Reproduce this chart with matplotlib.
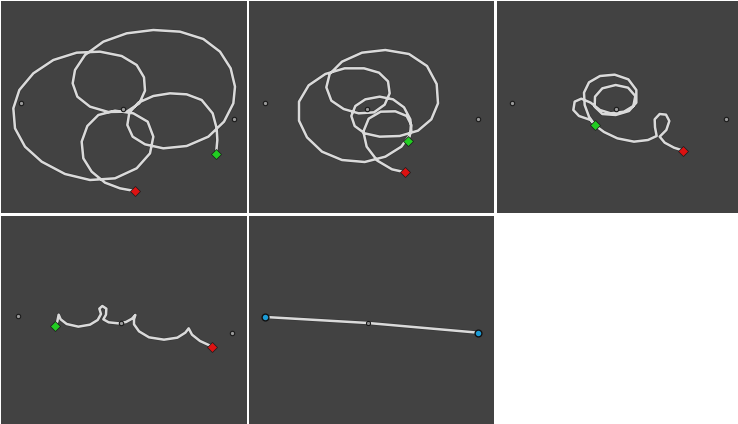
import matplotlib
matplotlib.use("Agg")
import matplotlib.pyplot as plt

W, H = 738, 424
BG = "#424242"
LINE = "#dadada"

# traced trajectories (view units, y grows downward), first point = start (green), last = end (red)
path1_x = [648, 652, 650, 638, 605, 560, 510, 460, 415, 388, 382, 398, 435, 490, 560, 625, 672, 700, 705, 692,
           660, 610, 540, 460, 380, 310, 255, 225, 218, 232, 270, 325, 380, 418, 435, 432, 410, 365, 300, 230,
           160, 100, 58, 40, 45, 75, 125, 195, 270, 345, 410, 450, 460, 443, 400, 345, 295, 262, 245, 250,
           275, 315, 360, 404]
path1_y = [463, 420, 385, 340, 300, 283, 280, 288, 308, 338, 375, 410, 433, 445, 438, 410, 365, 310, 260, 205,
           155, 117, 95, 90, 100, 125, 165, 210, 250, 290, 320, 336, 335, 310, 272, 232, 195, 168, 155, 158,
           180, 220, 270, 325, 385, 440, 485, 522, 540, 535, 505, 460, 410, 365, 340, 332, 345, 378, 425, 475,
           515, 548, 565, 573]

path2_x = [480, 490, 487, 468, 435, 395, 352, 322, 310, 320, 350, 395, 455, 510, 550, 570, 566, 537, 483, 412,
           342, 282, 245, 235, 250, 287, 332, 378, 410, 425, 420, 393, 348, 290, 232, 182, 153, 153, 177, 222,
           282, 350, 412, 460, 485, 490, 476, 442, 398, 362, 346, 356, 388, 432, 472]
path2_y = [422, 392, 358, 322, 298, 290, 298, 318, 348, 378, 400, 410, 408, 392, 358, 310, 252, 198, 162, 150,
           158, 185, 222, 262, 302, 327, 340, 337, 314, 280, 244, 218, 205, 205, 222, 256, 305, 362, 412, 455,
           480, 486, 470, 440, 405, 375, 348, 334, 335, 356, 395, 440, 482, 508, 517]

path3_x = [303, 285, 272, 270, 285, 318, 362, 403, 427, 427, 405, 365, 325, 302, 303, 325, 365, 402, 424, 418,
           390, 350, 318, 290, 262, 242, 238, 255, 290, 303, 330, 370, 420, 462, 488, 483, 482, 497, 516, 526,
           517, 497, 512, 540, 568]
path3_y = [376, 350, 315, 278, 247, 228, 224, 238, 270, 308, 333, 345, 342, 320, 290, 265, 255, 263, 288, 318,
           335, 340, 330, 308, 296, 305, 330, 348, 360, 376, 396, 415, 425, 420, 408, 382, 358, 342, 344, 363,
           390, 410, 428, 443, 452]

path4_x = [165, 172, 176, 182, 200, 235, 270, 293, 303, 298, 307, 319, 318, 310, 326, 355, 378, 396, 406, 402,
           402, 417, 447, 492, 532, 556, 566, 576, 600, 637]
path4_y = [342, 328, 308, 322, 336, 344, 338, 324, 306, 290, 282, 290, 308, 322, 331, 334, 330, 320, 309, 322,
           337, 358, 376, 383, 377, 362, 349, 368, 387, 404]

path5_x = [52, 360, 690]
path5_y = [315, 333, 362]

# the three attractor dots in each panel
dots_x = [[62, 370, 703], [52, 357, 690], [55, 365, 695], [55, 362, 695], [52, 360, 690]]
dots_y = [[310, 327, 357], [310, 327, 357], [310, 328, 358], [313, 333, 362], [315, 333, 362]]

paths = [(path1_x, path1_y), (path2_x, path2_y), (path3_x, path3_y), (path4_x, path4_y), (path5_x, path5_y)]

# panel rectangles in pixels (x0, x1, y0, y1) and origin of the view units
panels = [(1, 247, 1, 213, 0, 0), (249.5, 494, 1, 213, 248, 0), (497, 738, 1, 213, 494, 0),
          (1, 247, 216, 424, 0, 212), (249.5, 494, 216, 424, 248, 212)]

fig = plt.figure(figsize=(W / 100, H / 100), dpi=100, facecolor="white")

for i, (x0, x1, y0, y1, ox, oy) in enumerate(panels):
    ax = fig.add_axes([x0 / W, 1 - y1 / H, (x1 - x0) / W, (y1 - y0) / H])
    ax.set_facecolor(BG)
    ax.set_xlim((x0 - ox) * 3, (x1 - ox) * 3)
    ax.set_ylim((y1 - oy) * 3, (y0 - oy) * 3)
    ax.set_xticks([])
    ax.set_yticks([])
    for s in ax.spines.values():
        s.set_visible(False)

    px, py = paths[i]
    ax.plot(px, py, color="#2a2a2a", lw=2.8, solid_capstyle="round", solid_joinstyle="round", alpha=0.45)
    ax.plot(px, py, color=LINE, lw=1.8, solid_capstyle="round", solid_joinstyle="round")

    dx, dy = dots_x[i], dots_y[i]
    if i == 4:
        ax.scatter([dx[0], dx[2]], [dy[0], dy[2]], s=24, c="#1b9bd6", edgecolors="#111111", linewidths=1.0, zorder=5)
        ax.scatter([dx[1]], [dy[1]], s=9, c="#8c8c8c", edgecolors="#111111", linewidths=0.7, zorder=5)
    else:
        ax.scatter(dx, dy, s=10, c="#9a9a9a", edgecolors="#1a1a1a", linewidths=0.8, zorder=5)
        ax.plot(px[0], py[0], marker="D", ms=5, color="#22cc22", mec="#1a1a1a", mew=0.5, zorder=6)
        ax.plot(px[-1], py[-1], marker="D", ms=5, color="#dd1111", mec="#1a1a1a", mew=0.5, zorder=6)

fig.savefig("out.png", dpi=100, facecolor="white")
